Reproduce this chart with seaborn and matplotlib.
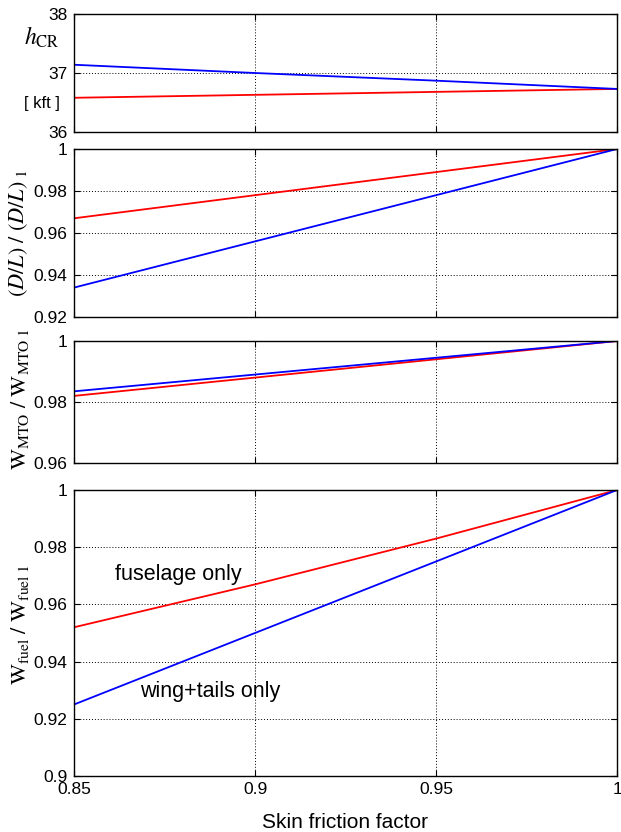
import matplotlib
matplotlib.use("Agg")
import matplotlib.pyplot as plt
import pandas as pd
import seaborn as sns

skin_friction = [0.85, 0.90, 0.95, 1.00]

h_cr_fuselage = [36.58, 36.63, 36.68, 36.73]
h_cr_wing = [37.14, 37.00, 36.87, 36.73]

dl_fuselage = [0.967, 0.978, 0.989, 1.000]
dl_wing = [0.934, 0.956, 0.978, 1.000]

mto_fuselage = [0.982, 0.988, 0.994, 1.000]
mto_wing = [0.9835, 0.989, 0.9945, 1.000]

fuel_fuselage = [0.952, 0.967, 0.983, 1.000]
fuel_wing = [0.925, 0.950, 0.975, 1.000]

series_names = ["fuselage only", "wing+tails only"]
series_colors = {"fuselage only": "#ff0000", "wing+tails only": "#0000ff"}


def make_frame(fus, wing):
    rows = []
    for x, y in zip(skin_friction, fus):
        rows.append({"k": x, "value": y, "case": series_names[0]})
    for x, y in zip(skin_friction, wing):
        rows.append({"k": x, "value": y, "case": series_names[1]})
    return pd.DataFrame(rows)


sns.set_style("white")
plt.rcParams["font.family"] = ["Liberation Sans", "DejaVu Sans"]
plt.rcParams["mathtext.fontset"] = "stix"
plt.rcParams["text.color"] = "black"
plt.rcParams["axes.labelcolor"] = "black"

fig = plt.figure(figsize=(6.21, 8.32), dpi=100)
W, H = 621, 832
left, right = 74, 617


def add_ax(top, bottom):
    return fig.add_axes([left / W, 1 - bottom / H, (right - left) / W, (bottom - top) / H])


panels = [
    (add_ax(14, 132), make_frame(h_cr_fuselage, h_cr_wing), (36, 38), [36, 37, 38]),
    (add_ax(149, 317), make_frame(dl_fuselage, dl_wing), (0.92, 1.0), [0.92, 0.94, 0.96, 0.98, 1.0]),
    (add_ax(341, 463), make_frame(mto_fuselage, mto_wing), (0.96, 1.0), [0.96, 0.98, 1.0]),
    (add_ax(490, 776), make_frame(fuel_fuselage, fuel_wing), (0.9, 1.0), [0.9, 0.92, 0.94, 0.96, 0.98, 1.0]),
]

for i, (ax, df, ylim, yticks) in enumerate(panels):
    sns.lineplot(data=df, x="k", y="value", hue="case", palette=series_colors,
                 linewidth=1.3, legend=False, ax=ax)
    ax.set_xlim(0.85, 1.0)
    ax.set_ylim(*ylim)
    ax.set_yticks(yticks)
    ax.set_yticklabels(["%g" % t for t in yticks])
    ax.set_xticks([0.85, 0.9, 0.95, 1.0])
    ax.grid(True, linestyle=(0, (1, 2)), color="black", linewidth=0.7)
    ax.tick_params(direction="in", length=4, labelsize=12.5, colors="black", pad=4.5,
                   top=True, right=True, left=True, bottom=True)
    for s in ax.spines.values():
        s.set_color("black")
        s.set_linewidth(1.0)
    ax.set_ylabel("")
    if i < 3:
        ax.set_xlabel("")
        ax.set_xticklabels([])
    else:
        ax.set_xticklabels(["0.85", "0.9", "0.95", "1"])
        ax.set_xlabel("Skin friction factor", fontsize=15, labelpad=11)

ax0, ax1, ax2, ax3 = [p[0] for p in panels]

ax0.text(-0.059, 0.80, r"$h_{\mathrm{CR}}$", transform=ax0.transAxes,
         fontsize=17, ha="center", va="center")
ax0.text(-0.059, 0.24, "[ kft ]", transform=ax0.transAxes,
         fontsize=12, ha="center", va="center")

ax1.set_ylabel(r"$(D/L)\ /\ (D/L)_{\ 1}$", fontsize=16)
ax1.yaxis.set_label_coords(-0.081, 0.5)
ax2.set_ylabel(r"$\mathrm{W}_{\mathrm{MTO}}\ /\ \mathrm{W}_{\mathrm{MTO\ 1}}$", fontsize=16)
ax2.yaxis.set_label_coords(-0.079, 0.52)
ax3.set_ylabel(r"$\mathrm{W}_{\mathrm{fuel}}\ /\ \mathrm{W}_{\mathrm{fuel\ 1}}$", fontsize=16)
ax3.yaxis.set_label_coords(-0.079, 0.53)

ax3.text(0.8613, 0.9703, "fuselage only", fontsize=15.5, va="center")
ax3.text(0.8682, 0.9294, "wing+tails only", fontsize=15.5, va="center")

fig.savefig("out.png", dpi=100)
